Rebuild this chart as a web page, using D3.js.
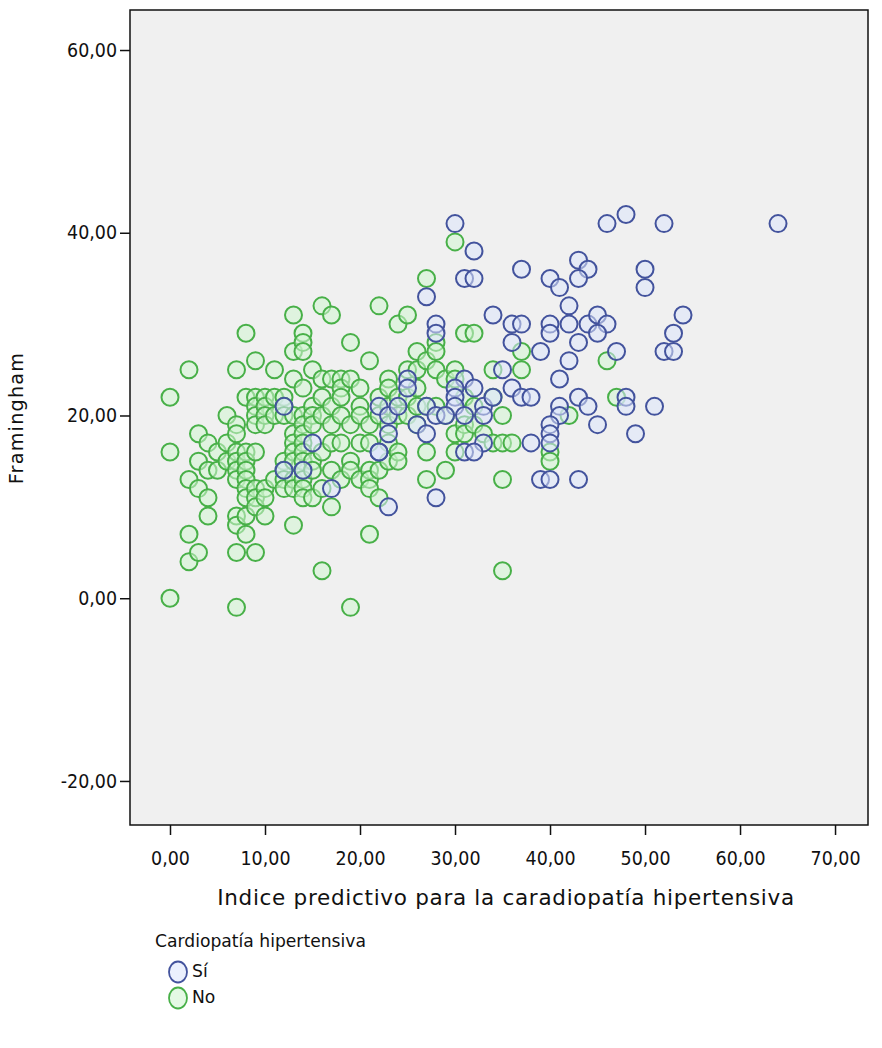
<!DOCTYPE html>
<html>
<head>
<meta charset="utf-8">
<script src="https://d3js.org/d3.v7.min.js"></script>
<style>
  body { margin: 0; background: #fff; }
  svg { display: block; font-family: "DejaVu Sans", Verdana, sans-serif; }
  .tick text { fill: #111; font-family: "DejaVu Sans Condensed", "DejaVu Sans", sans-serif; }
  .tick line { stroke: #111; stroke-width: 1.5; }
</style>
</head>
<body>
<svg id="chart" width="882" height="1048"></svg>
<script>
// Cardiopatía hipertensiva = Sí (blue)
const siX = [30,46,48,52,64,32,31,32,37,40,43,44,43,41,50,50,27,42,34,54,28,36,37,40,42,44,45,46,45,28,40,53,
  36,43,47,52,53,39,42,41,31,25,25,30,30,32,35,36,37,38,43,48,44,48,51,41,41,30,31,33,33,22,23,26,27,40,45,40,49,
  40,38,33,15,22,31,32,39,40,43,17,23,28,27,24,34,28,12,22,23,14,29,12];
const siY = [41,41,42,41,41,38,35,35,36,35,37,36,35,34,36,34,33,32,31,31,30,30,30,30,30,30,31,30,29,29,29,29,
  28,28,27,27,27,27,26,24,24,24,23,23,22,23,25,23,22,22,22,22,21,21,21,21,20,21,20,21,20,21,20,19,18,19,19,18,18,
  17,17,17,17,16,16,16,13,13,13,12,10,11,21,21,22,20,21,16,18,14,20,14];

// Cardiopatía hipertensiva = No (green)
const noX = [0,0,0, 2,2,2,2, 3,3,3,3, 4,4,4,4, 5,5, 6,6,6,
  7,7,7,7,7,7,7,7,7,7,7, 8,8,8,8,8,8,8,8,8,8, 9,9,9,9,9,9,9,9,9,9,
  10,10,10,10,10,10,10, 11,11,11,11, 12,12,12,12,12,12,12,
  13,13,13,13,13,13,13,13,13,13,13, 14,14,14,14,14,14,14,14,14,14,14,14,14,14,
  15,15,15,15,15,15,15, 16,16,16,16,16,16,16, 17,17,17,17,17,17,17, 18,18,18,18,18,18,
  19,19,19,19,19,19, 20,20,20,20,20, 21,21,21,21,21,21,21, 22,22,22,22,22, 23,23,23,23,23,23,
  24,24,24,24,24, 25,25,25,25, 26,26,26,26,26, 27,27,27,27,27, 28,28,28,28, 29,29,29,
  30,30,30,30,30, 31,31,31,31, 32,32,32, 33, 34,34,34, 35,35,35,35, 36, 37,37, 40,40, 42, 46, 47];
const noY = [22,16,0, 25,13,7,4, 18,15,12,5, 17,11,9,14, 14,16, 20,17,15,
  25,19,18,16,15,14,13,9,8,5,-1, 29,22,16,15,14,13,12,11,9,7, 26,22,21,20,19,16,12,11,10,5,
  22,21,20,19,12,11,9, 25,22,20,13, 22,21,20,15,14,13,12,
  31,27,24,20,18,17,16,15,13,12,8, 29,28,27,23,20,19,18,17,16,15,14,13,12,11,
  25,21,20,19,15,14,11, 32,24,22,20,16,12,3, 31,24,21,19,17,14,10, 24,23,22,20,17,13,
  28,24,19,15,14,-1, 23,21,20,17,13, 26,19,17,14,13,12,7, 32,22,20,14,11, 24,23,21,19,17,15,
  30,22,20,16,15, 31,25,22,20, 27,25,23,21,19, 35,26,21,16,13, 28,27,25,21, 24,20,14,
  39,25,24,18,16, 29,22,19,18, 29,21,19, 18, 25,17,22, 20,13,3,17, 17, 27,25, 16,15, 20, 26, 22];

const xTicks = [0,10,20,30,40,50,60,70];
const yTicks = [-20,0,20,40,60];
const xTitle = "Indice predictivo para la caradiopatía hipertensiva";
const yTitle = "Framingham";
const legendTitle = "Cardiopatía hipertensiva";
const groups = ["Sí", "No"];

const colors = {
  "Sí": { stroke: "#43539d", fill: "#dde6fb" },
  "No": { stroke: "#48b048", fill: "#d2f5d2" }
};

const locale = d3.formatLocale({ decimal: ",", thousands: ".", grouping: [3], currency: ["", ""], minus: "-" });
const fmt = locale.format(".2f");

const svg = d3.select("#chart");
const L = 130, R = 868, T = 10, B = 825;

const x = d3.scaleLinear().domain([-4.21, 73.47]).range([L, R]);
const y = d3.scaleLinear().domain([-24.82, 64.38]).range([B, T]);

// scale a text's font size so its width matches what the picture shows
function fitWidth(sel, target) {
  const w = sel.node().getComputedTextLength();
  const fs = parseFloat(sel.attr("font-size"));
  const nfs = fs * target / w;
  sel.attr("font-size", nfs);
  return nfs;
}

// plot background
svg.append("rect")
  .attr("x", L).attr("y", T).attr("width", R - L).attr("height", B - T)
  .attr("fill", "#f0f0f0");

// points
const noData = noX.map((d, i) => ({ x: d, y: noY[i], g: "No" }));
const siData = siX.map((d, i) => ({ x: d, y: siY[i], g: "Sí" }));
svg.append("g").selectAll("circle").data(noData.concat(siData)).join("circle")
  .attr("cx", d => x(d.x))
  .attr("cy", d => y(d.y))
  .attr("r", 8.5)
  .attr("fill", d => colors[d.g].fill)
  .attr("fill-opacity", 0.55)
  .attr("stroke", d => colors[d.g].stroke)
  .attr("stroke-width", 2);

// frame
svg.append("rect")
  .attr("x", L).attr("y", T).attr("width", R - L).attr("height", B - T)
  .attr("fill", "none").attr("stroke", "#111").attr("stroke-width", 1.5);

// axes
const xAxis = svg.append("g").attr("transform", `translate(0,${B})`)
  .call(d3.axisBottom(x).tickValues(xTicks).tickFormat(fmt).tickSize(10).tickSizeOuter(0).tickPadding(12));
xAxis.select(".domain").remove();

const yAxis = svg.append("g").attr("transform", `translate(${L},0)`)
  .call(d3.axisLeft(y).tickValues(yTicks).tickFormat(fmt).tickSize(10).tickSizeOuter(0).tickPadding(3));
yAxis.select(".domain").remove();

const allTicks = svg.selectAll(".tick text").attr("font-size", 16);
const tickFs = fitWidth(yAxis.selectAll(".tick text").filter(d => d === 60), 50);
allTicks.attr("font-size", tickFs);
xAxis.selectAll(".tick text").attr("dy", null).attr("y", 0).attr("dominant-baseline", "central")
  .attr("transform", "translate(0,33)");

// legend
const lg = svg.append("g");
const lt = lg.append("text").attr("x", 155).attr("y", 947).attr("font-size", 16).attr("fill", "#111").text(legendTitle);
const legFs = fitWidth(lt, 211);
groups.forEach((g, i) => {
  lg.append("ellipse")
    .attr("cx", 178).attr("cy", 972 + i * 26).attr("rx", 9).attr("ry", 10.5)
    .attr("fill", colors[g].fill).attr("fill-opacity", 0.6)
    .attr("stroke", colors[g].stroke).attr("stroke-width", 1.8);
  lg.append("text").attr("x", 192).attr("y", 977 + i * 26)
    .attr("font-size", legFs).attr("fill", "#111").text(g);
});

// titles
const xt = svg.append("text")
  .attr("x", 506).attr("y", 905)
  .attr("text-anchor", "middle")
  .attr("font-size", 21.5).attr("fill", "#111")
  .text(xTitle);
const xw = xt.node().getComputedTextLength();
xt.attr("letter-spacing", Math.max(0, (577 - xw) / (xTitle.length - 1)));

const yt = svg.append("text")
  .attr("transform", `translate(23,418) rotate(-90)`)
  .attr("text-anchor", "middle")
  .attr("font-size", 16).attr("letter-spacing", 1.2).attr("fill", "#111")
  .text(yTitle);
fitWidth(yt, 135);
</script>
</body>
</html>
